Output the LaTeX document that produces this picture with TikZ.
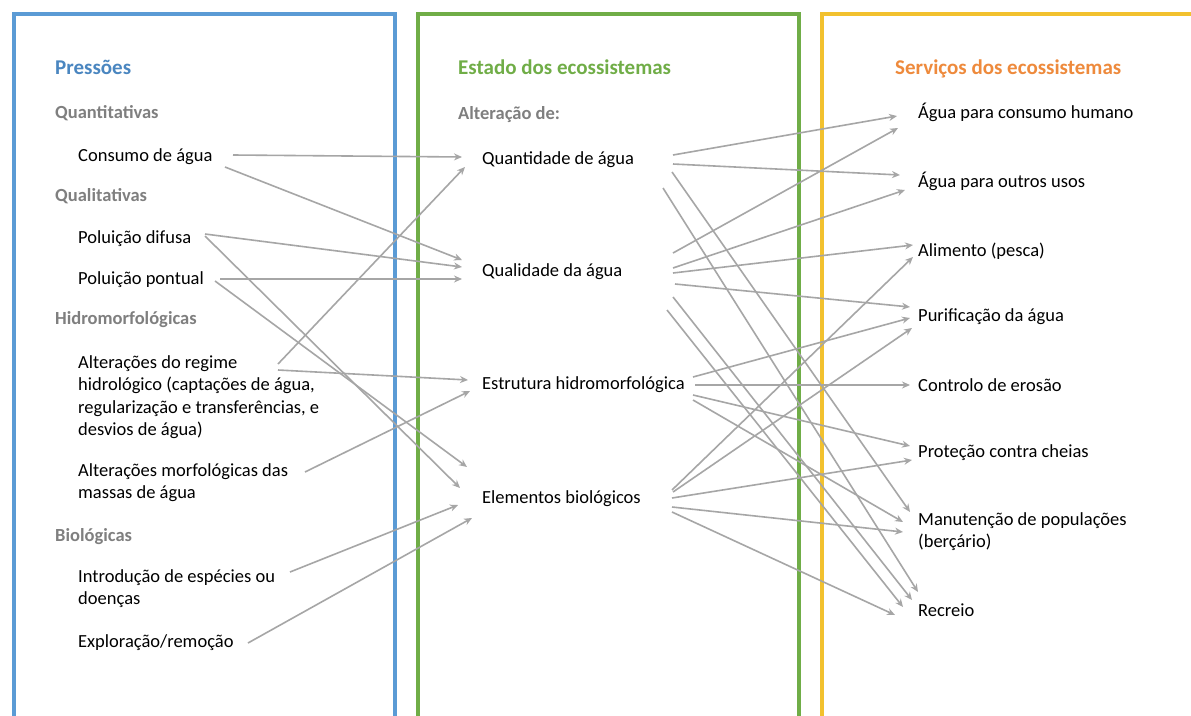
\documentclass[tikz,border=0pt]{standalone}
\usepackage{fontspec}
\setmainfont{Carlito}
\usetikzlibrary{arrows.meta,calc,positioning}

\definecolor{azul}{HTML}{5B9BD5}
\definecolor{azultxt}{HTML}{4A86C0}
\definecolor{verde}{HTML}{70AD47}
\definecolor{amarelo}{HTML}{F2C12E}
\definecolor{laranja}{HTML}{EE8A3C}
\definecolor{cinza}{HTML}{7F7F7F}
\definecolor{seta}{HTML}{A6A6A6}

\begin{document}
\begin{tikzpicture}[x=1pt,y=-1pt,
        box/.style={line width=4pt},
        heading/.style={anchor=west, inner sep=0pt, text height=12pt, text depth=0pt,
        font=\fontsize{21}{25}\selectfont\bfseries},
        group/.style={anchor=west, inner sep=0pt, text height=12pt, text depth=0pt,
        text=cinza, font=\fontsize{18.5}{22.5}\selectfont\bfseries},
        item/.style={anchor=west, inner sep=0pt, text height=12pt, text depth=0pt,
        font=\fontsize{18.5}{22.5}\selectfont},
        items/.style={anchor=north west, inner sep=0pt, align=left,
        font=\fontsize{18.5}{22.5}\selectfont},
        link/.style={draw=seta, line width=1.6pt, -{Stealth[length=8pt,width=7pt]}}]
        \useasboundingbox (0,0) rectangle (1191,715);
        \clip (0,0) rectangle (1191,715);
        \fill[white] (0,0) rectangle (1191,715);

        % columns
        \draw[box, azul] (14,14) rectangle (395,740);
        \draw[box, verde] (418,14) rectangle (799,740);
        \draw[box, amarelo] (822,14) rectangle (1210,740);

        % pressures
        \node[heading, text=azultxt] (pres) at (55,68) {Pressões};
        \node[group] (quantit) at (55,112) {Quantitativas};
        \node[item] (consumo) at (78,155) {Consumo de água};
        \node[group] (qualit) at (55,195) {Qualitativas};
        \node[item] (difusa) at (78,237) {Poluição difusa};
        \node[item] (pontual) at (78,278) {Poluição pontual};
        \node[group] (hidro) at (55,318) {Hidromorfológicas};
        \node[items] (regime) at (78,355) {Alterações do regime\\hidrológico (captações de água,\\regularização e transferências, e\\desvios de água)};
        \node[items] (morfo) at (78,463) {Alterações morfológicas das\\massas de água};
        \node[group] (bio) at (55,535) {Biológicas};
        \node[items] (introd) at (78,569) {Introdução de espécies ou\\doenças};
        \node[item] (explor) at (78,641) {Exploração/remoção};

        % state
        \node[heading, text=verde] (estado) at (458,68) {Estado dos ecossistemas};
        \node[group] (alter) at (458,113) {Alteração de:};
        \node[item] (quant) at (482,158) {Quantidade de água};
        \node[item] (qual) at (482,270) {Qualidade da água};
        \node[item] (estr) at (482,383) {Estrutura hidromorfológica};
        \node[item] (elem) at (482,497) {Elementos biológicos};

        % services
        \node[heading, text=laranja] (serv) at (895,68) {Serviços dos ecossistemas};
        \node[item] (ach) at (918,112) {Água para consumo humano};
        \node[item] (aou) at (918,181) {Água para outros usos};
        \node[item] (alim) at (918,250) {Alimento (pesca)};
        \node[item] (purif) at (918,315) {Purificação da água};
        \node[item] (contr) at (918,385) {Controlo de erosão};
        \node[item] (prot) at (918,451) {Proteção contra cheias};
        \node[items] (manut) at (918,512) {Manutenção de populações\\(berçário)};
        \node[item] (recreio) at (918,610) {Recreio};

        % pressures -> state
        \draw[link] ($(consumo.west)+(155,0)$) -- ($(quant.west)+(-20,-1)$);
        \draw[link] ($(consumo.west)+(147,12)$) -- ($(qual.west)+(-20,-10)$);
        \draw[link] ($(difusa.west)+(127,-3)$) -- ($(qual.west)+(-20,-3)$);
        \draw[link] ($(difusa.west)+(127,-1)$) -- ($(elem.west)+(-22,-9)$);
        \draw[link] ($(pontual.west)+(142,1)$) -- ($(qual.west)+(-20,9)$);
        \draw[link] ($(pontual.west)+(137,3)$) -- ($(elem.west)+(-15,-30)$);
        \draw[link] ($(regime.north west)+(200,9)$) -- ($(quant.west)+(-17,9)$);
        \draw[link] ($(regime.north west)+(200,15)$) -- ($(estr.west)+(-14,-3)$);
        \draw[link] ($(morfo.north west)+(227,9)$) -- ($(estr.west)+(-12,8)$);
        \draw[link] ($(introd.north west)+(212,3)$) -- ($(elem.west)+(-24,8)$);
        \draw[link] ($(explor.west)+(170,2)$) -- ($(elem.west)+(-10,21)$);

        % state -> services
        \draw[link] ($(quant.west)+(191,-3)$) -- ($(ach.west)+(-21,4)$);
        \draw[link] ($(quant.west)+(191,6)$) -- ($(aou.west)+(-18,-6)$);
        \draw[link] ($(quant.west)+(190,14)$) -- ($(manut.north west)+(-8,0)$);
        \draw[link] ($(quant.west)+(181,30)$) -- ($(recreio.west)+(0,-18)$);
        \draw[link] ($(qual.west)+(191,-17)$) -- ($(ach.west)+(-20,16)$);
        \draw[link] ($(qual.west)+(191,-2)$) -- ($(aou.west)+(-13,9)$);
        \draw[link] ($(qual.west)+(191,3)$) -- ($(alim.west)+(-5,-5)$);
        \draw[link] ($(qual.west)+(193,14)$) -- ($(purif.west)+(-8,-8)$);
        \draw[link] ($(qual.west)+(191,27)$) -- ($(recreio.west)+(-6,-10)$);
        \draw[link] ($(qual.west)+(185,40)$) -- ($(recreio.west)+(-15,-3)$);
        \draw[link] ($(estr.west)+(211,-6)$) -- ($(purif.west)+(-8,3)$);
        \draw[link] ($(estr.west)+(213,2)$) -- ($(contr.west)+(-8,0)$);
        \draw[link] ($(estr.west)+(211,12)$) -- ($(prot.west)+(-8,-5)$);
        \draw[link] ($(estr.west)+(211,17)$) -- ($(manut.north west)+(-15,10)$);
        \draw[link] ($(elem.west)+(190,-7)$) -- ($(alim.west)+(-5,7)$);
        \draw[link] ($(elem.west)+(191,-5)$) -- ($(purif.west)+(-6,13)$);
        \draw[link] ($(elem.west)+(190,1)$) -- ($(prot.west)+(-6,9)$);
        \draw[link] ($(elem.west)+(190,10)$) -- ($(manut.north west)+(-15,20)$);
        \draw[link] ($(elem.west)+(190,15)$) -- ($(recreio.west)+(-23,5)$);
    \end{tikzpicture}
\end{document}
